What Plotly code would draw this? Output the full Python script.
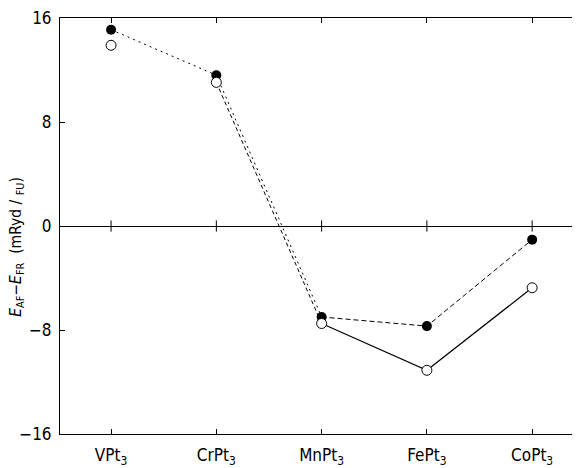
import plotly.graph_objects as go

categories = ["VPt<sub>3</sub>", "CrPt<sub>3</sub>", "MnPt<sub>3</sub>", "FePt<sub>3</sub>", "CoPt<sub>3</sub>"]
filled_vals = [15.1, 11.6, -7.0, -7.7, -1.05]
open_vals = [13.9, 11.05, -7.5, -11.1, -4.75]
y_ticks = [16, 8, 0, -8, -16]

x = list(range(len(categories)))
F = "DejaVu Sans Condensed, Liberation Sans Narrow, DejaVu Sans"

fig = go.Figure()
# zero-line tick marks at categories
fig.add_trace(go.Scatter(x=x, y=[0] * len(x), mode="markers",
                         marker=dict(symbol="line-ns-open", size=8, color="black",
                                     line=dict(width=1, color="black")),
                         hoverinfo="skip", showlegend=False))
# filled series: dotted V->Cr->Mn, dashed Mn->Fe->Co
fig.add_trace(go.Scatter(x=x[:3], y=filled_vals[:3], mode="lines",
                         line=dict(color="black", width=1, dash="2px,4px"), showlegend=False))
fig.add_trace(go.Scatter(x=x[2:], y=filled_vals[2:], mode="lines",
                         line=dict(color="black", width=1, dash="5px,3px"), showlegend=False))
# open series: dashed Cr->Mn, solid Mn->Fe->Co
fig.add_trace(go.Scatter(x=x[1:3], y=open_vals[1:3], mode="lines",
                         line=dict(color="black", width=1, dash="4px,3px"), showlegend=False))
fig.add_trace(go.Scatter(x=x[2:], y=open_vals[2:], mode="lines",
                         line=dict(color="black", width=1.2), showlegend=False))
fig.add_trace(go.Scatter(x=x, y=filled_vals, mode="markers",
                         marker=dict(symbol="circle", size=10, color="black",
                                     line=dict(width=0)), showlegend=False))
fig.add_trace(go.Scatter(x=x, y=open_vals, mode="markers",
                         marker=dict(symbol="circle", size=10, color="white",
                                     line=dict(width=1, color="black")), showlegend=False))

fig.add_annotation(text="<i>E</i><sub>AF</sub>−<i>E</i><sub>FR</sub>  (mRyd / <sub>FU</sub>)",
                   xref="paper", yref="paper", x=-0.083, y=0.45,
                   xanchor="center", yanchor="middle", textangle=-90, showarrow=False,
                   font=dict(size=15.5, family=F))

fig.update_layout(
    width=572, height=460,
    margin=dict(l=52, r=0, t=7, b=34),
    paper_bgcolor="white", plot_bgcolor="white",
    font=dict(family=F, size=16, color="black"),
    xaxis=dict(range=[-0.485, 4.445], tickvals=x, ticktext=categories,
               showline=True, linecolor="black", linewidth=1, mirror="ticks",
               ticks="inside", ticklen=5, tickcolor="black", showgrid=False,
               zeroline=False, tickfont=dict(size=17, family=F),
               ticklabelstandoff=6, ticklabeloverflow="allow"),
    yaxis=dict(range=[-16, 16], tickvals=y_ticks, ticktext=[str(v).replace("-", "−") for v in y_ticks],
               showline=True, linecolor="black", linewidth=1, mirror="ticks",
               ticks="inside", ticklen=5, tickcolor="black", showgrid=False,
               zeroline=True, zerolinecolor="black", zerolinewidth=1,
               tickfont=dict(size=17, family=F), ticklabelstandoff=4,
               ticklabeloverflow="allow"),
)

fig.write_html("out.html")
